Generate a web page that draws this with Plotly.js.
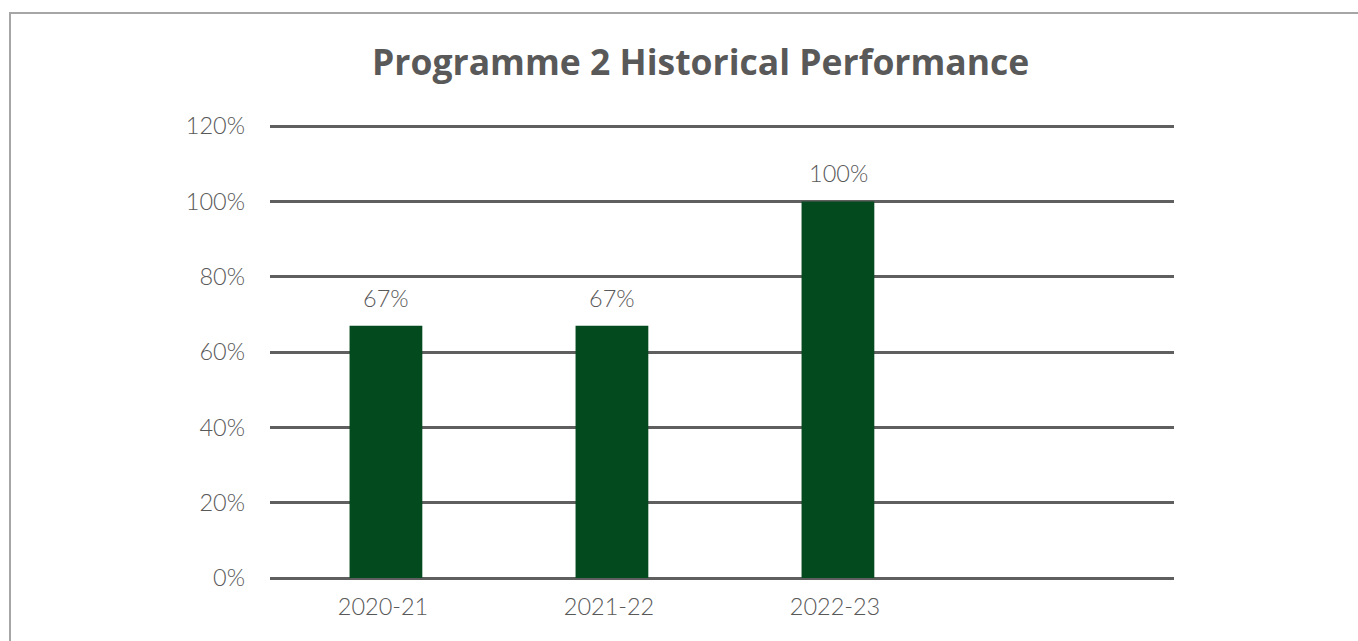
<!DOCTYPE html>
<html>
<head>
<meta charset="utf-8">
<script src="https://cdn.plot.ly/plotly-3.0.1.min.js"></script>
<style>
  html, body { margin: 0; padding: 0; background: #fff; overflow: hidden; }
  #frame { position: absolute; left: 9px; top: 12px; width: 1400px; height: 700px;
           border: 2px solid #a6a6a6; pointer-events: none; }
  #chart { width: 1358px; height: 641px; }
</style>
</head>
<body>
<div id="chart"></div>
<div id="frame"></div>
<script>
// chart data
var years = ["2020-21", "2021-22", "2022-23", " "];
var performance = [67, 67, 100, null];
var labels = ["67%", "67%", "100%", ""];
var yTicks = [0, 20, 40, 60, 80, 100, 120];
var yTickText = ["0%", "20%", "40%", "60%", "80%", "100%", "120%"];

var grey = "#595959";
var tickFont = { family: "Lato, 'Open Sans', sans-serif", size: 23.5, color: grey, weight: 300 };

var data = [
  {
    type: "bar",
    x: years,
    y: performance,
    width: 0.322,
    offset: -0.148,
    marker: { color: "#034a1e" },
    hoverinfo: "x+y",
  },
];

// value labels above each bar
var notes = [];
for (var i = 0; i < years.length; i++) {
  if (performance[i] == null) continue;
  notes.push({
    x: years[i],
    y: performance[i],
    xshift: 3,
    text: labels[i],
    showarrow: false,
    yanchor: "bottom",
    yshift: 12,
    font: tickFont,
  });
}

var layout = {
  width: 1358,
  height: 641,
  margin: { l: 270, r: 184, t: 125, b: 63 },
  paper_bgcolor: "#fff",
  plot_bgcolor: "#fff",
  showlegend: false,
  title: {
    text: "<b>Programme 2 Historical Performance</b>",
    font: { family: "'Open Sans', sans-serif", size: 35.5, color: grey },
    x: 0.516,
    xanchor: "center",
    yref: "container",
    y: 0.902,
    yanchor: "middle",
  },
  xaxis: {
    type: "category",
    showgrid: false,
    showline: false,
    ticks: "",
    tickfont: tickFont,
    ticklabelstandoff: 12,
  },
  yaxis: {
    range: [0, 120.3],
    tickmode: "array",
    tickvals: yTicks,
    ticktext: yTickText,
    showgrid: true,
    gridcolor: "#5f5f5f",
    gridwidth: 2.5,
    zeroline: true,
    zerolinecolor: "#5f5f5f",
    zerolinewidth: 2.5,
    tickfont: tickFont,
    ticklabelstandoff: 24,
  },
  annotations: notes,
};

Plotly.newPlot("chart", data, layout, { displayModeBar: false });
</script>
</body>
</html>
